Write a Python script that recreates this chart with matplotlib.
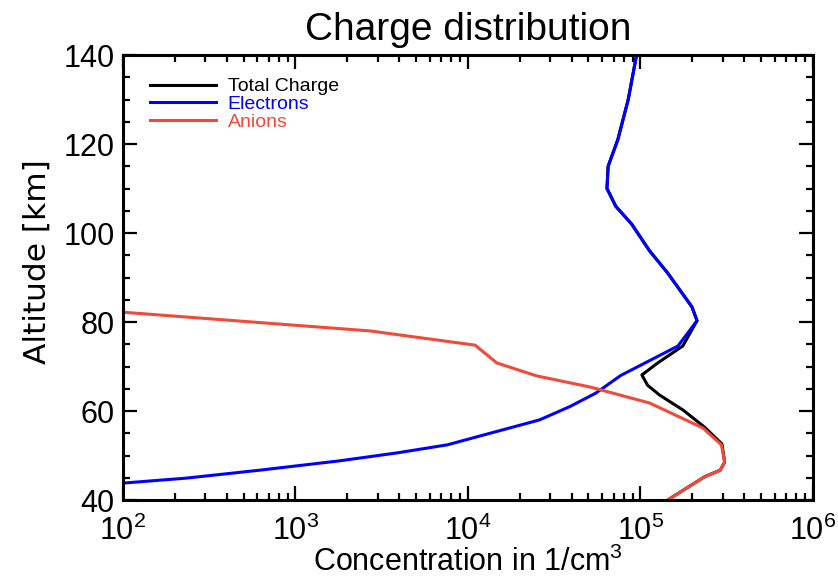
import matplotlib

matplotlib.use("Agg")
import matplotlib.pyplot as plt
from matplotlib.ticker import LogLocator, MultipleLocator, NullFormatter

plt.rcParams["font.family"] = ["Liberation Sans", "DejaVu Sans"]
plt.rcParams["mathtext.fontset"] = "custom"
plt.rcParams["mathtext.rm"] = "Liberation Sans"
plt.rcParams["mathtext.it"] = "Liberation Sans:italic"

# electron density profile (1/cm^3) vs altitude (km)
electron_alt = [140, 130, 121, 115, 110, 106, 102, 96, 91, 83.4, 80.3, 74.6,
                68, 64, 61, 58, 54.6, 52.4, 50.6, 48.8, 46.7, 44.9, 43.8, 43.0]
electrons = [9.5e4, 8.5e4, 7.4e4, 6.5e4, 6.4e4, 7.2e4, 8.9e4, 1.13e5, 1.44e5,
             1.99e5, 2.13e5, 1.65e5, 7.7e4, 5.5e4, 3.9e4, 2.6e4, 1.23e4,
             7.6e3, 3.9e3, 1.8e3, 620, 230, 100, 60]

# negative ions
anion_alt = [82.2, 78, 74.8, 70.8, 67.9, 65.4, 61.8, 56.2, 52.4, 48.5, 46.7, 45.2, 40]
anions = [100, 2.7e3, 1.1e4, 1.47e4, 2.5e4, 5.1e4, 1.13e5, 2.3e5, 2.95e5,
          3.08e5, 2.9e5, 2.35e5, 1.44e5]

# total negative charge
total_alt = [140, 130, 121, 115, 110, 106, 102, 96, 91, 83.4, 80.3, 74.6, 70.8,
             68.1, 65.8, 63.6, 60.2, 56.4, 52.6, 48.5, 46.7, 45.2, 40]
total = [9.5e4, 8.5e4, 7.4e4, 6.5e4, 6.4e4, 7.2e4, 8.9e4, 1.13e5, 1.44e5,
         1.99e5, 2.13e5, 1.76e5, 1.26e5, 1.02e5, 1.1e5, 1.29e5, 1.77e5,
         2.35e5, 2.97e5, 3.08e5, 2.9e5, 2.35e5, 1.44e5]

fig = plt.figure(figsize=(8.38, 5.81), dpi=100)
ax = fig.add_axes([0.1468, 0.1394, 0.8232, 0.7659])

lw = 2.2
ax.plot(total, total_alt, color="black", lw=lw, label="Total Charge")
ax.plot(electrons, electron_alt, color="#0000ff", lw=lw, label="Electrons")
ax.plot(anions, anion_alt, color="#f04a3a", lw=lw, label="Anions")

ax.set_xscale("log")
ax.set_xlim(1e2, 1e6)
ax.set_ylim(40, 140)
ax.xaxis.set_major_locator(LogLocator(base=10, numticks=10))
ax.xaxis.set_minor_locator(LogLocator(base=10, subs=range(2, 10), numticks=50))
ax.xaxis.set_minor_formatter(NullFormatter())
ax.yaxis.set_major_locator(MultipleLocator(20))
ax.yaxis.set_minor_locator(MultipleLocator(5))

for s in ax.spines.values():
    s.set_linewidth(2.2)
ax.tick_params(which="both", direction="in", top=True, right=True, width=1.6,
               labelsize=22, pad=6)
ax.tick_params(axis="x", which="both", pad=11)
ax.tick_params(which="major", length=10)
ax.tick_params(which="minor", length=5)

ax.set_title("Charge distribution", fontsize=28, pad=11)
ax.set_xlabel("Concentration in 1/cm$^3$", fontsize=22, labelpad=0)
ax.set_ylabel("Altitude [km]", fontsize=22.5, family=["DejaVu Sans"])
ax.yaxis.set_label_coords(-0.104, 0.535)

leg = ax.legend(loc="upper left", frameon=False, fontsize=14, handlelength=3.4,
                handletextpad=0.6, labelspacing=0.0, borderaxespad=0.2,
                bbox_to_anchor=(0.022, 0.975), labelcolor="linecolor")

fig.savefig("out.png", dpi=100)
